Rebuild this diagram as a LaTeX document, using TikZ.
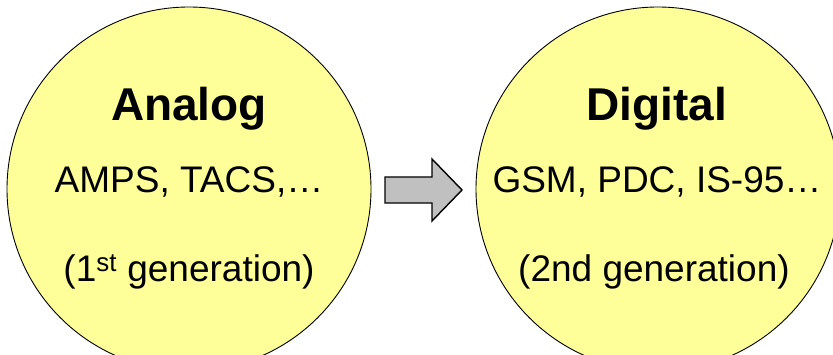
\documentclass[tikz,border=0pt]{standalone}
\usepackage{fontspec}
\setmainfont{Liberation Sans}
\definecolor{genyellow}{RGB}{255,255,153}
\definecolor{arrowgray}{RGB}{192,192,192}
\tikzset{
	gencircle/.style={circle,draw=black,line width=0.9pt,fill=genyellow,minimum size=364pt,inner sep=0pt},
	gentitle/.style={font=\fontsize{46}{50}\selectfont\bfseries,anchor=base,inner sep=0pt},
	gentext/.style={font=\fontsize{37}{42}\selectfont,anchor=base,inner sep=0pt}
}
\begin{document}
\begin{tikzpicture}[x=1pt,y=1pt]
\useasboundingbox (0,0) rectangle (833,354);

%Generationen
\node[gencircle] (analog) at (189,165) {};
\node[gencircle] (digital) at (658,165) {};

%Texte links
\node[gentitle] (analogtitle) at (189,233) {Analog};
\node[gentext] (analogsys) at (189,161) {AMPS, TACS,…};
\node[gentext] (analoggen) at (189,73) {(1\textsuperscript{st} generation)};

%Texte rechts
\node[gentitle] (digitaltitle) at (657,233) {Digital};
\node[gentext] (digitalsys) at (657,161) {GSM, PDC, IS-95…};
\node[gentext] (digitalgen) at (654,73) {(2nd generation)};

%Pfeil
\draw[line width=1.4pt,fill=arrowgray,line join=miter]
	(385,177) -- (432,177) -- (432,195) -- (462,164) -- (432,133) -- (432,151) -- (385,151) -- cycle;

\end{tikzpicture}
\end{document}
